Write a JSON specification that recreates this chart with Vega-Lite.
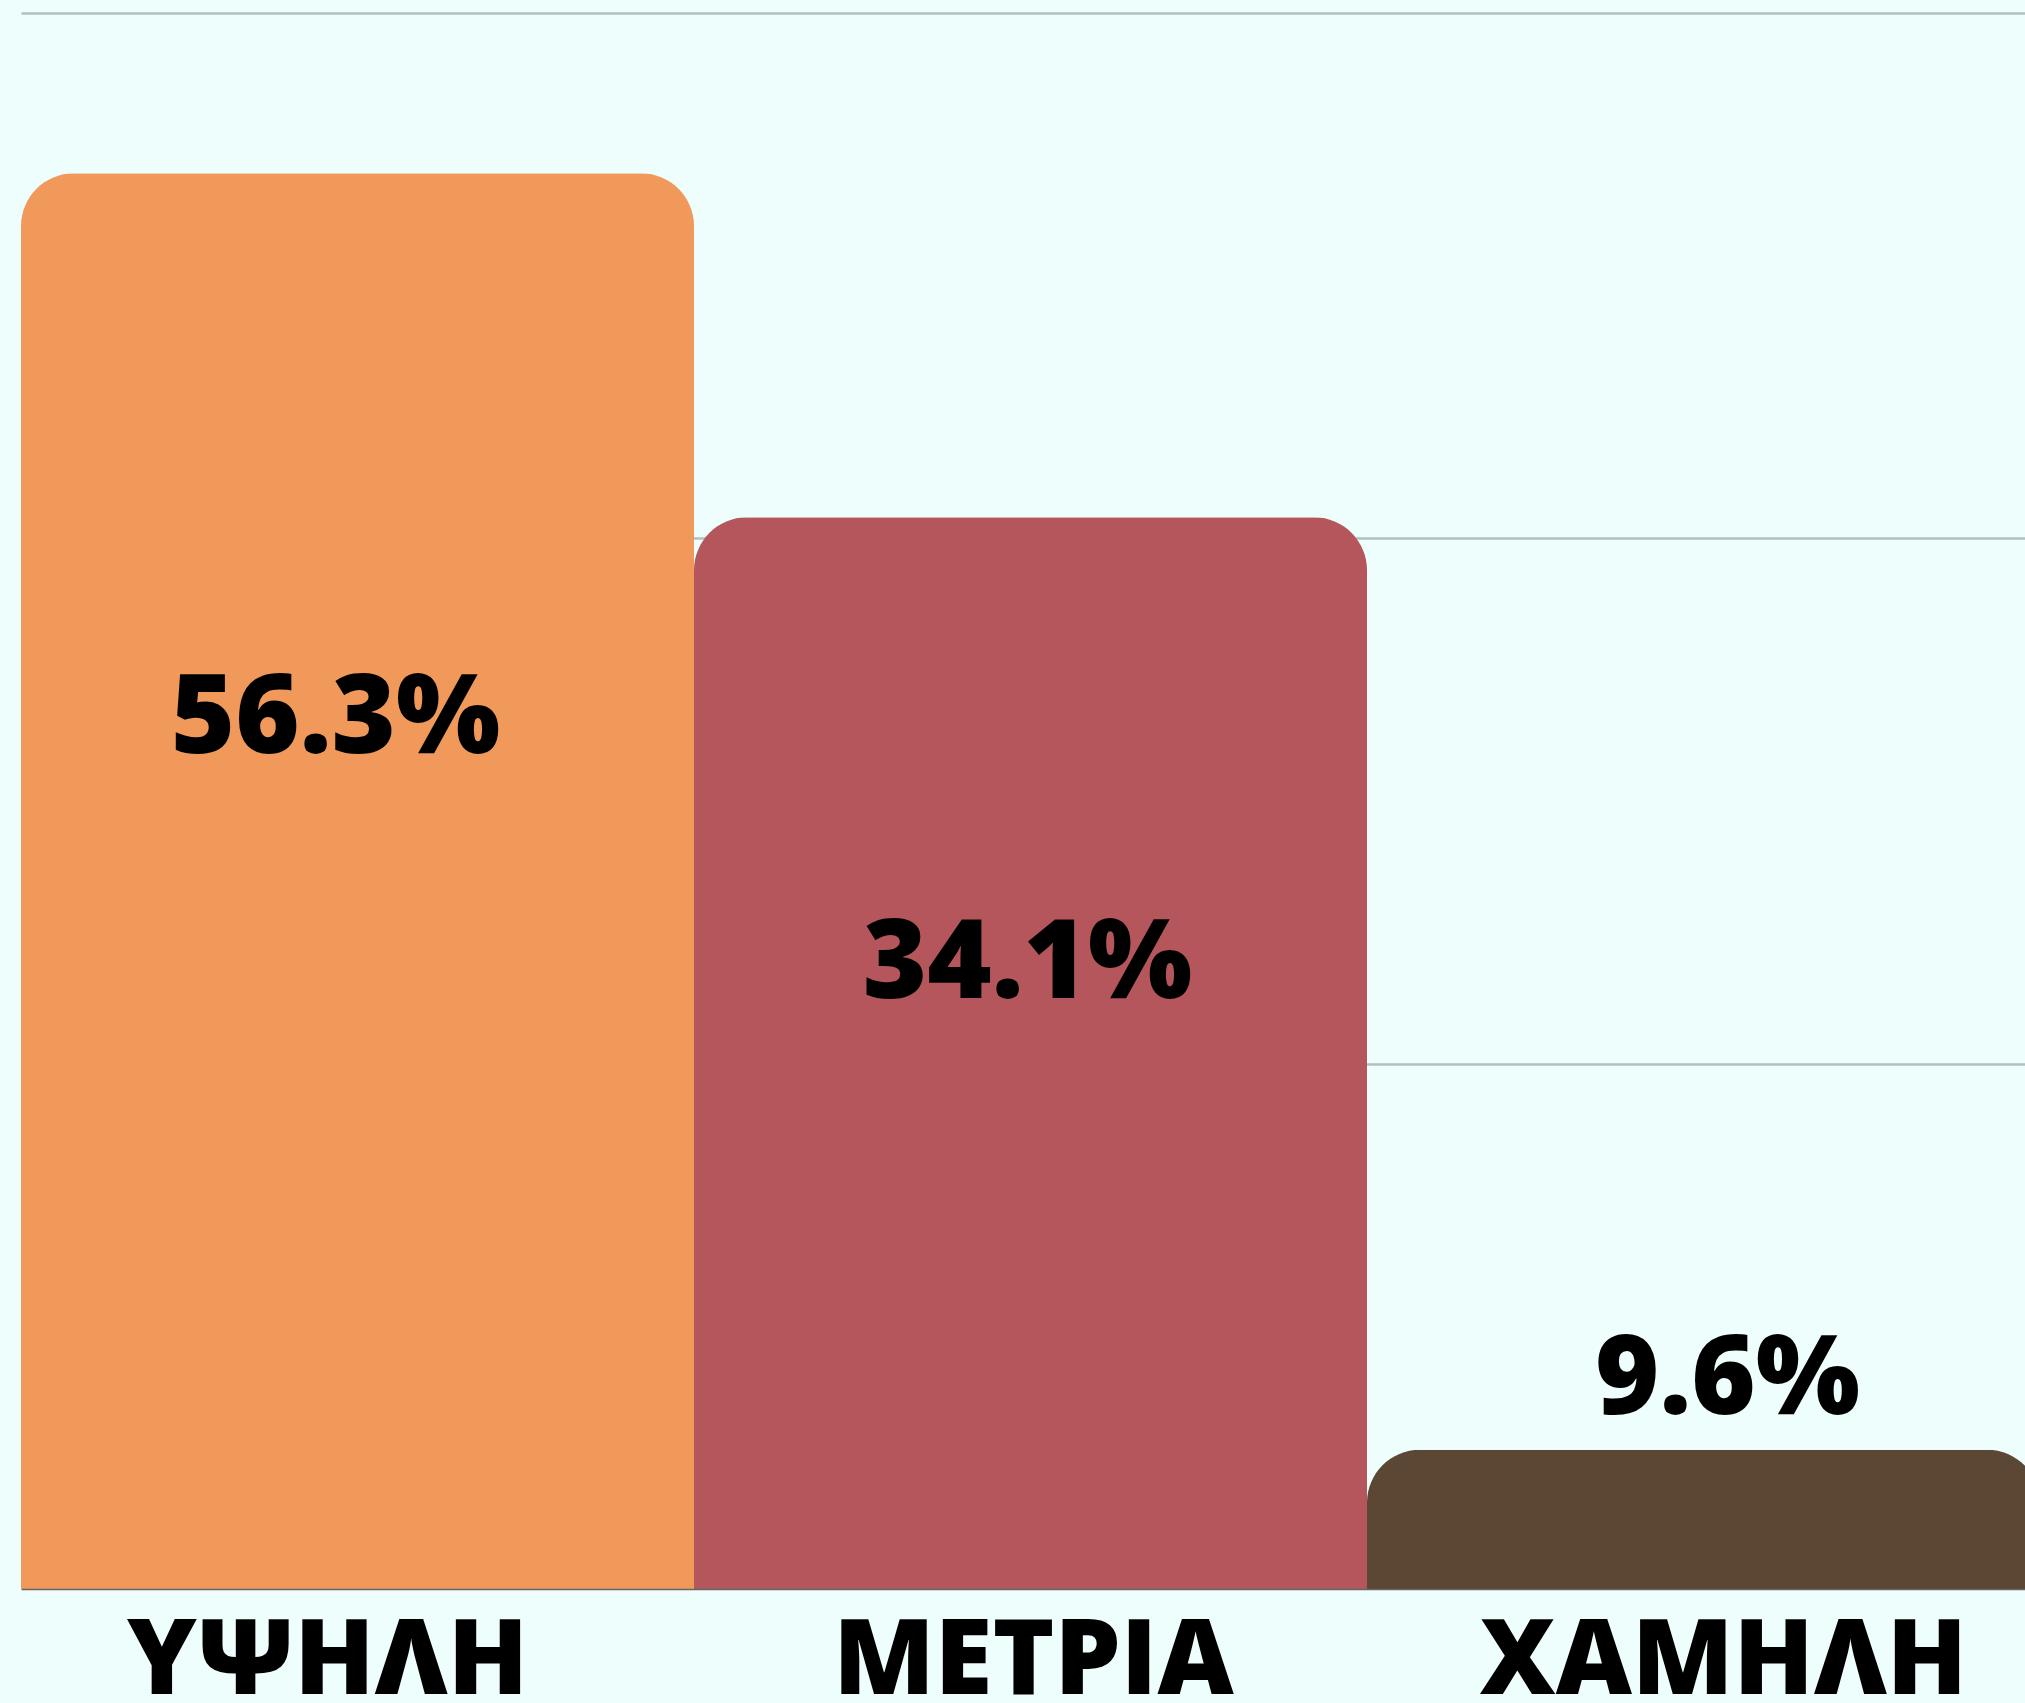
{
  "$schema": "https://vega.github.io/schema/vega-lite/v6.json",
  "width": 2019,
  "height": 1576,
  "autosize": {"type": "none"},
  "padding": {"left": 21, "top": 13, "right": 0, "bottom": 114},
  "background": "#EEFEFD",
  "config": {"view": {"stroke": null}},
  "data": {
    "values": [
      {"category": "ΥΨΗΛΗ", "value": 0.563, "height": 53.9},
      {"category": "ΜΕΤΡΙΑ", "value": 0.341, "height": 40.8},
      {"category": "ΧΑΜΗΛΗ", "value": 0.096, "height": 5.3}
    ]
  },
  "encoding": {
    "x": {
      "field": "category",
      "type": "nominal",
      "sort": null,
      "scale": {"paddingInner": 0, "paddingOuter": 0},
      "axis": {
        "title": null,
        "labelAngle": 0,
        "ticks": false,
        "domain": true,
        "domainColor": "#666666",
        "domainWidth": 1.5,
        "labelFont": "Open Sans",
        "labelFontWeight": 800,
        "labelFontSize": 105,
        "labelColor": "#000000",
        "labelPadding": 21,
        "labelLimit": 2000,
        "labelOverlap": false,
        "labelOffset": {"expr": "datum.value == 'ΥΨΗΛΗ' ? -30 : datum.value == 'ΧΑΜΗΛΗ' ? 20 : 3"},
        "zindex": 1
      }
    },
    "y": {
      "field": "height",
      "type": "quantitative",
      "scale": {"domain": [0, 60]},
      "axis": {
        "title": null,
        "values": [20, 40, 60],
        "grid": true,
        "gridColor": "#B2BFBF",
        "gridWidth": 2.5,
        "domain": false,
        "ticks": false,
        "labels": false,
        "zindex": 0
      }
    }
  },
  "layer": [
    {
      "mark": {"type": "bar", "cornerRadiusTopLeft": 53, "cornerRadiusTopRight": 53},
      "encoding": {
        "color": {
          "field": "category",
          "type": "nominal",
          "scale": {
            "domain": ["ΥΨΗΛΗ", "ΜΕΤΡΙΑ", "ΧΑΜΗΛΗ"],
            "range": ["#F0995A", "#B5565C", "#5B4733"]
          },
          "legend": null
        }
      }
    },
    {
      "mark": {
        "type": "text",
        "font": "Open Sans",
        "fontWeight": 800,
        "fontSize": 110,
        "color": "#000000",
        "baseline": "alphabetic",
        "dx": {"expr": "datum.value > 0.5 ? -22 : datum.value > 0.2 ? -3 : 24"},
        "dy": {"expr": "datum.value > 0.5 ? 580 : datum.value > 0.2 ? 481 : -36"}
      },
      "encoding": {
        "text": {"field": "value", "type": "quantitative", "format": ".1%"}
      }
    }
  ]
}
